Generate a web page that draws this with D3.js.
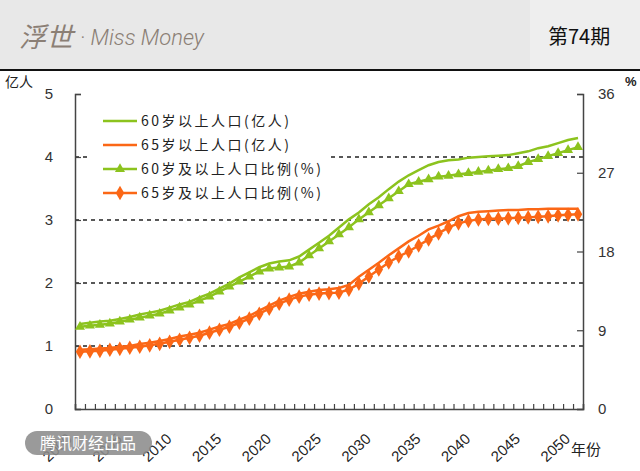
<!DOCTYPE html>
<html>
<head>
<meta charset="utf-8">
<script src="https://cdn.jsdelivr.net/npm/d3@7"></script>
<style>
  body { margin: 0; background: #fff; }
  svg { display: block; }
</style>
</head>
<body>
<div class="chart"></div>
<script>
// Data, one value per year 2000..2050
var years = d3.range(2000, 2051);

// 60岁以上人口 (亿人)
var pop60 = [1.35, 1.37, 1.39, 1.40, 1.43, 1.46, 1.50, 1.53, 1.56, 1.61,
  1.66, 1.70, 1.77, 1.83, 1.91, 1.99, 2.09, 2.17, 2.25, 2.31,
  2.34, 2.36, 2.42, 2.53, 2.64, 2.75, 2.88, 3.01, 3.12, 3.25,
  3.36, 3.49, 3.61, 3.71, 3.79, 3.87, 3.92, 3.95, 3.96, 3.99,
  4.00, 4.01, 4.02, 4.03, 4.06, 4.09, 4.14, 4.17, 4.22, 4.27, 4.30];

// 65岁以上人口 (亿人)
var pop65 = [0.94, 0.95, 0.96, 0.97, 0.99, 1.00, 1.03, 1.05, 1.08, 1.11,
  1.15, 1.18, 1.21, 1.26, 1.31, 1.35, 1.42, 1.48, 1.56, 1.64,
  1.72, 1.78, 1.83, 1.86, 1.89, 1.90, 1.92, 1.97, 2.10, 2.21,
  2.32, 2.44, 2.55, 2.66, 2.75, 2.85, 2.91, 2.98, 3.06, 3.11,
  3.13, 3.14, 3.15, 3.16, 3.16, 3.17, 3.17, 3.18, 3.18, 3.18, 3.18];

// 60岁及以上人口比例 (%)
var pct60 = [9.40, 9.52, 9.63, 9.75, 9.98, 10.21, 10.44, 10.67, 10.89, 11.24,
  11.58, 11.93, 12.39, 12.84, 13.42, 13.99, 14.56, 15.14, 15.71, 16.06,
  16.17, 16.28, 16.74, 17.55, 18.35, 19.15, 19.95, 20.76, 21.67, 22.48,
  23.28, 24.08, 24.89, 25.69, 25.97, 26.26, 26.55, 26.66, 26.83, 26.95,
  27.10, 27.24, 27.41, 27.52, 27.75, 28.21, 28.56, 28.90, 29.24, 29.59, 29.93];

// 65岁及以上人口比例 (%)
var pct65 = [6.54, 6.59, 6.65, 6.77, 6.88, 7.00, 7.11, 7.28, 7.45, 7.68,
  7.91, 8.14, 8.37, 8.72, 9.06, 9.40, 9.86, 10.32, 10.89, 11.47,
  12.04, 12.50, 12.84, 13.07, 13.19, 13.25, 13.30, 13.65, 14.33, 15.14,
  15.94, 16.74, 17.43, 18.00, 18.69, 19.38, 20.07, 20.76, 21.22, 21.50,
  21.67, 21.73, 21.75, 21.79, 21.85, 21.90, 21.96, 22.02, 22.13, 22.19, 22.25];

var leftTicks = [0, 1, 2, 3, 4, 5];
var rightTicks = [0, 9, 18, 27, 36];
var gridValues = [1, 2, 3, 4];
var yearLabels = [2000, 2005, 2010, 2015, 2020, 2025, 2030, 2035, 2040, 2045, 2050];
var legendNames = ["60岁以上人口(亿人)", "65岁以上人口(亿人)", "60岁及以上人口比例(%)", "65岁及以上人口比例(%)"];

var green = "#8cc31e";
var orange = "#fb6716";

var svgWidth = 640;
var svgHeight = 471;

var svg = d3.select(".chart").append("svg")
  .attr("width", svgWidth)
  .attr("height", svgHeight);

// header band
svg.append("rect")
  .attr("width", svgWidth)
  .attr("height", 69)
  .attr("fill", "#e8e8e8");
svg.append("rect")
  .attr("x", 530)
  .attr("width", 110)
  .attr("height", 69)
  .attr("fill", "#eeeeee");
svg.append("rect")
  .attr("y", 69)
  .attr("width", svgWidth)
  .attr("height", 2)
  .attr("fill", "#111");

svg.append("text")
  .attr("x", 19)
  .attr("y", 47)
  .attr("fill", "#8b7f75")
  .style("font-family", "'Noto Sans CJK SC'")
  .style("font-style", "italic")
  .style("font-size", "27px")
  .text("浮世");
svg.append("text")
  .attr("x", 80)
  .attr("y", 45)
  .attr("fill", "#8b7f75")
  .style("font-family", "Roboto, 'Liberation Sans'")
  .style("font-style", "italic")
  .style("font-weight", 300)
  .style("font-size", "22px")
  .text("· Miss Money");
svg.append("text")
  .attr("x", 548)
  .attr("y", 44)
  .attr("fill", "#111")
  .style("font-family", "'Noto Sans CJK SC'")
  .style("font-size", "20px")
  .text("第74期");

// chart area
var plot = { left: 75, right: 583, top: 94, bottom: 409 };

var x = d3.scaleLinear()
  .domain([1999.5, 2050.5])
  .range([plot.left, plot.right]);
var yLeft = d3.scaleLinear()
  .domain([0, 5])
  .range([plot.bottom, plot.top]);
var yRight = d3.scaleLinear()
  .domain([0, 36])
  .range([plot.bottom, plot.top]);

// dashed gridlines
svg.selectAll(".grid")
  .data(gridValues)
  .enter()
  .append("line")
  .attr("class", "grid")
  .attr("x1", plot.left)
  .attr("x2", plot.right)
  .attr("y1", d => yLeft(d))
  .attr("y2", d => yLeft(d))
  .attr("stroke", "#222")
  .attr("stroke-width", 1.5)
  .attr("stroke-dasharray", "4,4");

// legend box covers gridlines behind it
svg.append("rect")
  .attr("x", 88)
  .attr("y", 106)
  .attr("width", 242)
  .attr("height", 98)
  .attr("fill", "#fff");

// axes
var axisFont = "'Liberation Sans', Arial, sans-serif";

var leftAxis = svg.append("g")
  .attr("transform", `translate(${plot.left}, 0)`)
  .call(d3.axisLeft(yLeft).tickValues(leftTicks).tickFormat(d3.format("d")).tickSize(-6).tickPadding(22));
var rightAxis = svg.append("g")
  .attr("transform", `translate(${plot.right}, 0)`)
  .call(d3.axisRight(yRight).tickValues(rightTicks).tickFormat(d3.format("d")).tickSize(-6).tickPadding(15));
var bottomAxis = svg.append("g")
  .attr("transform", `translate(0, ${plot.bottom})`)
  .call(d3.axisBottom(x).tickValues(d3.range(1999.5, 2051, 1)).tickSize(-5).tickFormat(""));

[leftAxis, rightAxis, bottomAxis].forEach(function(g) {
  g.select(".domain").attr("stroke", "#444").attr("stroke-width", 1.5);
  g.selectAll(".tick line").attr("stroke", "#444").attr("stroke-width", 1.2);
  g.selectAll(".tick text")
    .attr("fill", "#333")
    .style("font-family", axisFont)
    .style("font-size", "15px");
});

// rotated year labels
svg.append("g")
  .selectAll("text")
  .data(yearLabels)
  .enter()
  .append("text")
  .attr("transform", d => `translate(${x(d) - 7}, 440) rotate(-43)`)
  .attr("text-anchor", "end")
  .attr("fill", "#222")
  .style("font-family", axisFont)
  .style("font-size", "15px")
  .text(d => d);

// axis titles
svg.append("text")
  .attr("x", 5)
  .attr("y", 87)
  .attr("fill", "#222")
  .style("font-family", "'Noto Sans CJK SC'")
  .style("font-size", "14px")
  .text("亿人");
svg.append("text")
  .attr("x", 625)
  .attr("y", 86)
  .attr("fill", "#222")
  .style("font-family", axisFont)
  .style("font-size", "13px")
  .style("font-weight", "bold")
  .text("%");
svg.append("text")
  .attr("x", 571)
  .attr("y", 455)
  .attr("fill", "#222")
  .style("font-family", "'Noto Sans CJK SC'")
  .style("font-size", "15px")
  .text("年份");

// series
var series = [
  { values: pop60, scale: yLeft, color: green, marker: null },
  { values: pop65, scale: yLeft, color: orange, marker: null },
  { values: pct60, scale: yRight, color: green, marker: d3.symbolTriangle, size: 44 },
  { values: pct65, scale: yRight, color: orange, marker: d3.symbolDiamond, size: 62 }
];

series.forEach(function(s) {
  var line = d3.line()
    .x((d, i) => x(years[i]))
    .y(d => s.scale(d));

  svg.append("path")
    .datum(s.values)
    .attr("fill", "none")
    .attr("stroke", s.color)
    .attr("stroke-width", 2.5)
    .attr("d", line);

  if (s.marker) {
    svg.append("g")
      .selectAll("path")
      .data(s.values)
      .enter()
      .append("path")
      .attr("transform", (d, i) => `translate(${x(years[i])}, ${s.scale(d)})`)
      .attr("d", d3.symbol().type(s.marker).size(s.size))
      .attr("fill", s.color);
  }
});

// legend
var legend = svg.append("g")
  .selectAll("g")
  .data(series)
  .enter()
  .append("g")
  .attr("transform", (d, i) => `translate(103, ${121 + i * 24})`);

legend.append("line")
  .attr("x1", 0)
  .attr("x2", 34)
  .attr("stroke", d => d.color)
  .attr("stroke-width", 2.5);

legend.filter(d => d.marker)
  .append("path")
  .attr("transform", "translate(17, 0)")
  .attr("d", d => d3.symbol().type(d.marker).size(d.size)())
  .attr("fill", d => d.color);

legend.append("text")
  .attr("x", 38)
  .attr("dy", "0.36em")
  .attr("fill", "#222")
  .style("font-family", "'Noto Sans CJK SC'")
  .style("font-size", "14px")
  .style("letter-spacing", "2.5px")
  .text((d, i) => legendNames[i]);

// watermark
svg.append("rect")
  .attr("x", 25)
  .attr("y", 431)
  .attr("width", 127)
  .attr("height", 24)
  .attr("rx", 12)
  .attr("fill", "#8c8c8c")
  .attr("opacity", 0.88);
svg.append("text")
  .attr("x", 88)
  .attr("y", 449)
  .attr("text-anchor", "middle")
  .attr("fill", "#fff")
  .style("font-family", "'Noto Sans CJK SC'")
  .style("font-size", "16px")
  .text("腾讯财经出品");
</script>
</body>
</html>
